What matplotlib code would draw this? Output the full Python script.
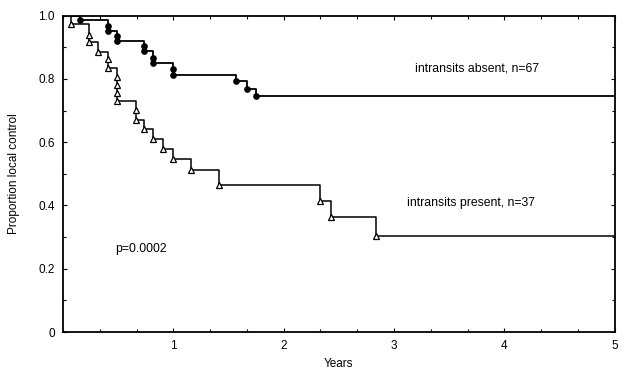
import numpy as np
import matplotlib.pyplot as plt
from matplotlib.ticker import MultipleLocator

plt.rcParams['font.family'] = ['Liberation Sans', 'DejaVu Sans']

# event times (years) and proportion after each event
absent_t = [0.15, 0.41, 0.41, 0.49, 0.49, 0.73, 0.73, 0.82, 0.82, 1.0, 1.0,
            1.57, 1.67, 1.75]
absent_s = [0.985, 0.968, 0.952, 0.937, 0.921, 0.905, 0.889, 0.867, 0.851,
            0.832, 0.813, 0.794, 0.769, 0.746]

present_t = [0.07, 0.24, 0.24, 0.32, 0.41, 0.41, 0.49, 0.49, 0.49, 0.49,
             0.66, 0.66, 0.73, 0.82, 0.91, 1.0, 1.16, 1.41, 2.33, 2.43, 2.84]
present_s = [0.973, 0.94, 0.918, 0.886, 0.864, 0.835, 0.807, 0.782, 0.756,
             0.731, 0.703, 0.671, 0.642, 0.611, 0.579, 0.547, 0.513, 0.465,
             0.415, 0.364, 0.304]

x_end = 5
yticks = [0, 0.2, 0.4, 0.6, 0.8, 1.0]
ytick_labels = ['0', '0.2', '0.4', '0.6', '0.8', '1.0']
xticks = [1, 2, 3, 4, 5]


def km_line(t, s):
    xs = np.concatenate([[0], t, [x_end]])
    ys = np.concatenate([[1.0], s, [s[-1]]])
    return xs, ys


fig = plt.figure(figsize=(6.26, 3.72), dpi=100)
ax = fig.add_axes([0.1006, 0.1075, 0.8814, 0.8505])

xs, ys = km_line(absent_t, absent_s)
ax.step(xs, ys, where='post', color='black', lw=1.3, zorder=3)
ax.plot(absent_t, absent_s, 'o', color='black', ms=3.8, zorder=4)

xs, ys = km_line(present_t, present_s)
ax.step(xs, ys, where='post', color='black', lw=1.1, zorder=3)
ax.plot(present_t, present_s, '^', mfc='white', mec='black', mew=0.9,
        ms=5, zorder=4)

ax.text(3.19, 0.832, 'intransits absent, n=67', fontsize=8.8, va='center')
ax.text(3.12, 0.408, 'intransits present, n=37', fontsize=8.8, va='center')
ax.text(0.47, 0.263, 'p=0.0002', fontsize=8.8, va='center')

ax.set_xlim(0, 5)
ax.set_ylim(0, 1.0)
ax.set_xticks(xticks)
ax.set_yticks(yticks)
ax.set_yticklabels(ytick_labels)
ax.xaxis.set_minor_locator(MultipleLocator(1 / 3))
ax.yaxis.set_minor_locator(MultipleLocator(0.1))
ax.tick_params(which='both', direction='in', top=True, right=True,
               labelsize=8.5, width=0.8)
ax.tick_params(which='major', length=3, pad=6)
ax.tick_params(which='minor', length=2)
for sp in ax.spines.values():
    sp.set_linewidth(1.3)

ax.set_xlabel('Years', fontsize=8.5, labelpad=4)
ax.set_ylabel('Proportion local control', fontsize=8.5, labelpad=13)

fig.savefig('out.png', dpi=100)
